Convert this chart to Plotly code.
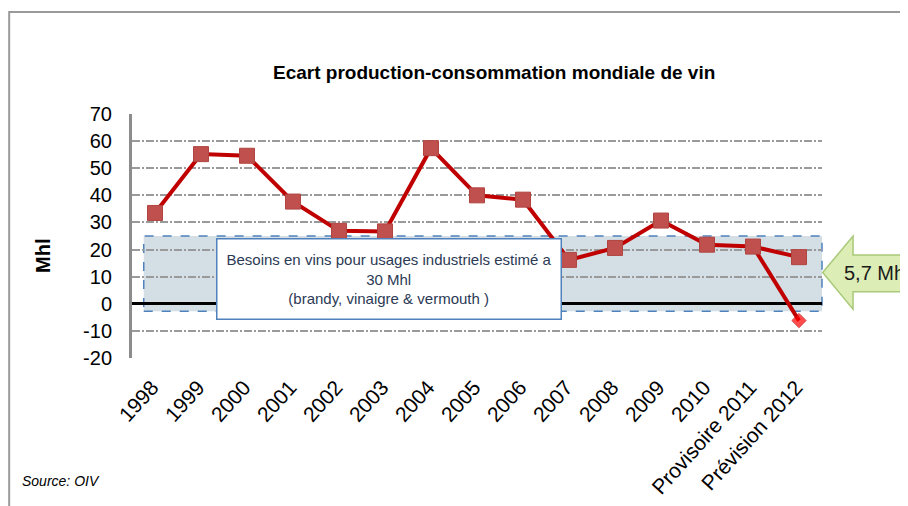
import plotly.graph_objects as go

categories = ["1998", "1999", "2000", "2001", "2002", "2003", "2004", "2005",
              "2006", "2007", "2008", "2009", "2010", "Provisoire 2011", "Prévision 2012"]
ecart = [33.5, 55.2, 54.6, 37.7, 26.9, 26.7, 57.4, 40.0, 38.4, 16.2, 20.6, 30.7, 21.8, 21.1, 17.2]
ecart_bas = [None] * 13 + [21.1, -6.2]
y_ticks = [70, 60, 50, 40, 30, 20, 10, 0, -10, -20]
y_tick_text = ["70", "60", "50", "40", "30", "20", "10", "0", "-10", "-20"]

FONT = "Arial, Liberation Sans, sans-serif"

fig = go.Figure()
fig.add_trace(go.Scatter(
    x=categories, y=ecart_bas, mode="lines+markers",
    line=dict(color="#c00000", width=4),
    marker=dict(symbol="diamond", size=[0] * 14 + [11], color="#ff0000",
                line=dict(color="#c00000", width=1)),
    showlegend=False, cliponaxis=False))
fig.add_trace(go.Scatter(
    x=categories, y=ecart, mode="lines+markers",
    line=dict(color="#c00000", width=4),
    marker=dict(symbol="square", size=15, color="#c0504d",
                line=dict(color="#b04440", width=1)),
    showlegend=False, cliponaxis=False))

# shaded band (industrial needs)
fig.add_shape(type="rect", xref="paper", yref="y", x0=0.017, x1=1.0, y0=-2.8, y1=25,
              fillcolor="#d3dfe5", line=dict(color="#4f81bd", width=1.5, dash="dash"),
              layer="below")

# outer frame
fig.add_shape(type="rect", xref="paper", yref="paper", x0=-0.178, x1=1.3, y0=-1.0, y1=1.418,
              line=dict(color="#9a9a9a", width=2), fillcolor="rgba(0,0,0,0)", layer="below")

# green arrow callout
pts = [(1.001, 0.350), (1.045, 0.5), (1.045, 0.422), (1.3, 0.422),
       (1.3, 0.272), (1.045, 0.272), (1.045, 0.2)]
path = "M " + " L ".join(f"{x},{y}" for x, y in pts) + " Z"
fig.add_shape(type="path", xref="paper", yref="paper", path=path,
              fillcolor="#dcedb5", line=dict(color="#a9c97a", width=1.5), layer="above")

fig.add_annotation(xref="paper", yref="paper", x=1.029, y=0.35, xanchor="left", yanchor="middle",
                   text="5,7 Mhl", showarrow=False, font=dict(family=FONT, size=20, color="#1a1a1a"))

# text box
fig.add_annotation(xref="paper", yref="y", x=0.372, y=9.3, xanchor="center", yanchor="middle",
                   text="Besoins en vins pour usages industriels estimé a<br>30 Mhl<br>(brandy, vinaigre & vermouth )",
                   showarrow=False, width=341, height=77, bgcolor="white",
                   bordercolor="#4f81bd", borderwidth=1.5, borderpad=1, valign="middle",
                   font=dict(family=FONT, size=15, color="#2b3a55"))

# title
fig.add_annotation(xref="paper", yref="paper", x=0.525, y=1.172, xanchor="center", yanchor="middle",
                   text="<b>Ecart production-consommation mondiale de vin</b>", showarrow=False,
                   font=dict(family=FONT, size=19, color="black"))
# y title
fig.add_annotation(xref="paper", yref="paper", x=-0.129, y=0.418, xanchor="center", yanchor="middle",
                   text="<b>Mhl</b>", textangle=-90, showarrow=False,
                   font=dict(family=FONT, size=20, color="black"))
# source
fig.add_annotation(xref="paper", yref="paper", x=-0.163, y=-0.504, xanchor="left", yanchor="middle",
                   text="<i>Source: OIV</i>", showarrow=False,
                   font=dict(family=FONT, size=14, color="black"))

fig.update_layout(
    width=908, height=506,
    margin=dict(l=124, r=94, t=106, b=156),
    paper_bgcolor="white", plot_bgcolor="white",
    font=dict(family=FONT),
)
fig.update_xaxes(type="category", range=[-0.5, 14.5], showgrid=False, showline=False,
                 ticks="", tickangle=-48, ticklabelshift=-3, ticklabelstandoff=12,
                 tickfont=dict(family=FONT, size=21, color="black"))
fig.update_yaxes(range=[-20, 70], tickvals=y_ticks, ticktext=y_tick_text, ticks="", showgrid=True,
                 gridcolor="#9a9a9a", gridwidth=2, griddash="8px,2px,2px,2px",
                 zeroline=True, zerolinecolor="black", zerolinewidth=3,
                 showline=True, linecolor="#8c8c8c", linewidth=3, ticklabelstandoff=13,
                 tickfont=dict(family=FONT, size=20, color="black"))

fig.write_html("out.html")
